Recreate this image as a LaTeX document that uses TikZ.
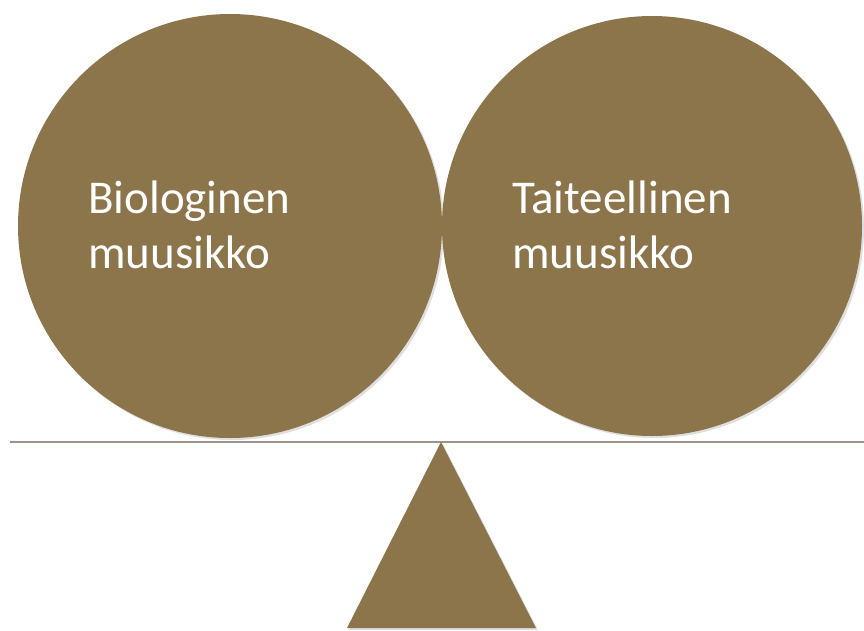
\documentclass[tikz,border=0pt]{standalone}
\usepackage{fontspec}
\setmainfont{Carlito}
\usetikzlibrary{shadows}
\definecolor{leather}{HTML}{8C754B}
\definecolor{beam-grey}{HTML}{A09189}

\begin{document}
\begin{tikzpicture}[x=1pt, y=-1pt,
    leather/.style={fill=leather, draw=none,
      drop shadow={shadow xshift=2pt, shadow yshift=-2pt, opacity=0.25}},
    weight text/.style={text=white, align=left, anchor=base west, inner sep=0pt,
      font=\fontsize{47}{55}\selectfont}]
    % Diagram: two leather weights on a balance beam, pixel coordinates (y down)
    %   left weight centre (230,226), right weight centre (652,226)
    %   beam at y=442, fulcrum apex (441,442), base y=628
    %   text: last baseline at y=268
    \useasboundingbox (0,0) rectangle (864,630);
    \path[leather] (230,226) circle (212pt);
    \path[leather] (652,226) circle (210pt);
    \draw[beam-grey, line width=2.6pt] (10,442) -- (864,442);
    \path[leather] (441,442) -- (536,628) -- (347,628) -- cycle;
    \node[weight text] (bio) at (88,268) {Biologinen\\muusikko};
    \node[weight text] (art) at (512,268) {Taiteellinen\\muusikko};
\end{tikzpicture}
\end{document}
